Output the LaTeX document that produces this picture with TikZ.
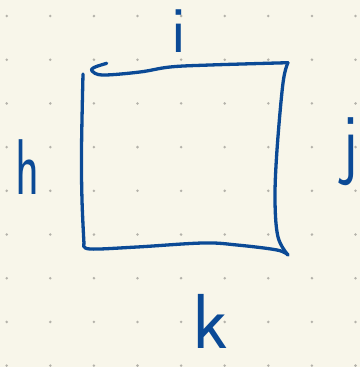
\documentclass[tikz,border=0pt]{standalone}
\usepackage{fontspec}
\definecolor{paper}{HTML}{F8F6EA}
\definecolor{ink}{HTML}{0B4A96}
\definecolor{dotc}{HTML}{B4B2AA}
\begin{document}
\begin{tikzpicture}[x=1pt,y=-1pt,
  stroke/.style={draw=ink,line width=3.3pt,line cap=round,line join=round},
  lbl/.style={text=ink,inner sep=0pt}]
\useasboundingbox (0,0) rectangle (360,367);
\clip (0,0) rectangle (360,367);
\fill[paper] (0,0) rectangle (360,367);
\foreach \a in {0,...,8} \foreach \b in {0,...,8}
  \fill[dotc] (6.7+43.6*\a,16+43.7*\b) circle (1.4);
% square
\draw[stroke] plot[smooth,tension=0.6] coordinates {(106.7,63.3) (94,67.5) (92,71) (103,75) (140,72) (170,67) (210,65) (288,62.7)};
\draw[stroke] plot[smooth,tension=0.6] coordinates {(288,62.7) (283,83) (277,150) (275,200) (278,237) (288,255)};
\draw[stroke] plot[smooth,tension=0.6] coordinates {(288,255) (277,250) (237,245) (203,243) (137,247) (90,249) (84,244)};
\draw[stroke] plot[smooth,tension=0.6] coordinates {(83,74) (81.5,150) (82,200) (84,244)};
% labels
\node[lbl,font=\sffamily\fontsize{66}{66}\selectfont] (i) at (179,31) {i};
\node[lbl,font=\sffamily\fontsize{79}{79}\selectfont,xscale=0.63] (h) at (28,167) {h};
\node[lbl,font=\sffamily\fontsize{80}{80}\selectfont,xscale=0.8] (j) at (350,152) {j};
\node[lbl,font=\sffamily\fontsize{78}{78}\selectfont,xscale=1.0] (k) at (210,321) {k};
\end{tikzpicture}
\end{document}
